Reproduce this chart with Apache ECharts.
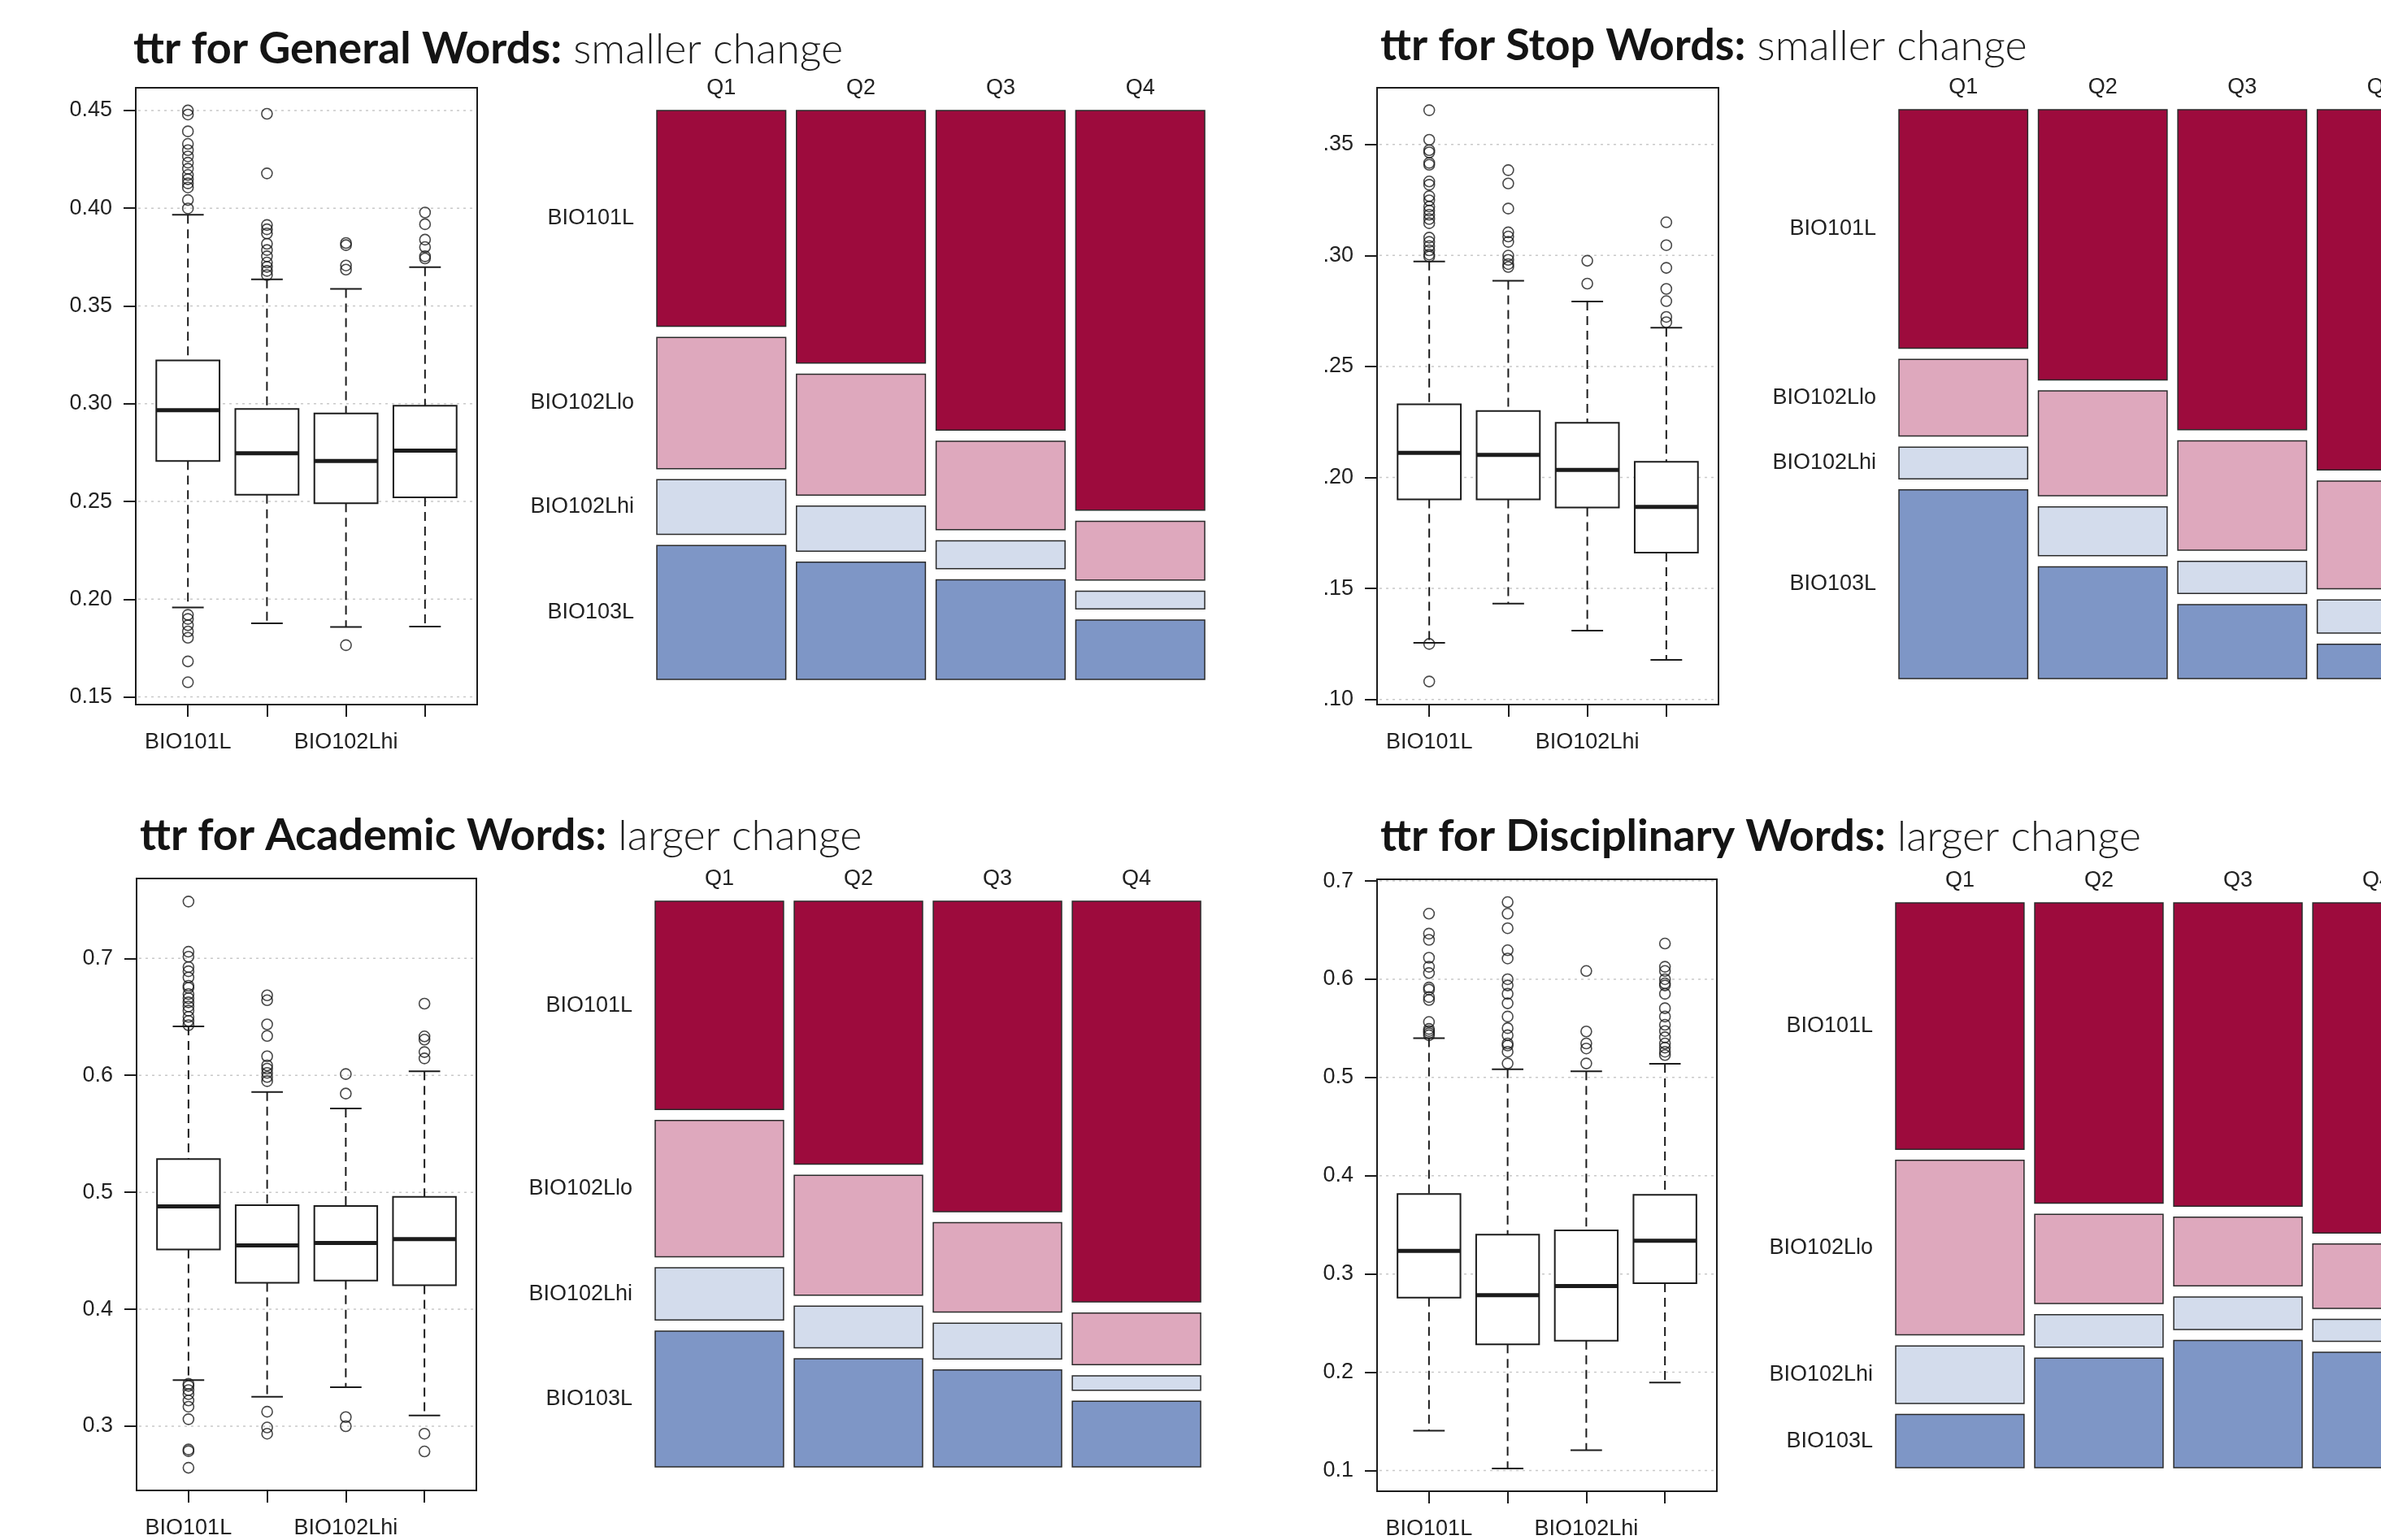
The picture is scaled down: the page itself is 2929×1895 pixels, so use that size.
<!DOCTYPE html>
<html>
<head>
<meta charset="utf-8">
<title>ttr by course and quarter</title>
<script src="https://cdn.jsdelivr.net/npm/echarts@6/dist/echarts.min.js"></script>
<style>
    html, body { margin: 0; padding: 0; background: #fff; }
    #chart { width: 2929px; height: 1895px; }
</style>
</head>
<body>
<div id="chart"></div>
<script>
// categories
var courses = ['BIO101L', 'BIO102Llo', 'BIO102Lhi', 'BIO103L'];
var quarters = ['Q1', 'Q2', 'Q3', 'Q4'];

// tick labels of the boxplots
var generalTicks = [0.15, 0.20, 0.25, 0.30, 0.35, 0.40, 0.45];
var stopTicks = [0.10, 0.15, 0.20, 0.25, 0.30, 0.35];
var academicTicks = [0.3, 0.4, 0.5, 0.6, 0.7];
var disciplinaryTicks = [0.1, 0.2, 0.3, 0.4, 0.5, 0.6, 0.7];

// boxplot stats per course: [lower whisker, Q1, median, Q3, upper whisker]
var generalBox = [[0.1958, 0.2707, 0.2967, 0.3221, 0.3967], [0.1877, 0.2534, 0.2747, 0.2973, 0.3636],
    [0.1858, 0.2491, 0.2707, 0.2950, 0.3587], [0.1860, 0.2521, 0.2760, 0.2990, 0.3698]];
var stopBox = [[0.1255, 0.1901, 0.2111, 0.2329, 0.2973], [0.1432, 0.1901, 0.2102, 0.2299, 0.2886],
    [0.1310, 0.1865, 0.2034, 0.2246, 0.2792], [0.1178, 0.1661, 0.1867, 0.2070, 0.2674]];
var academicBox = [[0.3394, 0.4511, 0.4879, 0.5284, 0.6418], [0.3252, 0.4227, 0.4546, 0.4890, 0.5858],
    [0.3333, 0.4245, 0.4567, 0.4883, 0.5716], [0.3092, 0.4206, 0.4599, 0.4961, 0.6035]];
var disciplinaryBox = [[0.1405, 0.2759, 0.3236, 0.3814, 0.5401], [0.1021, 0.2283, 0.2785, 0.3401, 0.5084],
    [0.1207, 0.2321, 0.2878, 0.3443, 0.5063], [0.1895, 0.2907, 0.3338, 0.3806, 0.5139]];

// outliers per course
var generalOut = [
    [0.4500, 0.4479, 0.4393, 0.4329, 0.4297, 0.4265, 0.4233, 0.4202, 0.4170, 0.4148, 0.4127, 0.4106, 0.4042, 0.3999,
        0.1920, 0.1899, 0.1867, 0.1835, 0.1803, 0.1682, 0.1575],
    [0.4483, 0.4178, 0.3914, 0.3892, 0.3871, 0.3818, 0.3786, 0.3754, 0.3722, 0.3700, 0.3679, 0.3658],
    [0.3822, 0.3811, 0.3707, 0.3686, 0.1765],
    [0.3978, 0.3918, 0.3839, 0.3801, 0.3754, 0.3743]
];
var stopOut = [
    [0.3654, 0.3521, 0.3474, 0.3464, 0.3417, 0.3408, 0.3333, 0.3318, 0.3267, 0.3248, 0.3220, 0.3202, 0.3183, 0.3164,
        0.3145, 0.3080, 0.3061, 0.3042, 0.3023, 0.3004, 0.2995, 0.1250, 0.1081],
    [0.3384, 0.3324, 0.3211, 0.3104, 0.3085, 0.3061, 0.2999, 0.2980, 0.2961, 0.2948],
    [0.2976, 0.2873],
    [0.3149, 0.3046, 0.2944, 0.2849, 0.2794, 0.2723, 0.2699]
];
var academicOut = [
    [0.7486, 0.7057, 0.7014, 0.6926, 0.6890, 0.6837, 0.6766, 0.6748, 0.6695, 0.6660, 0.6624, 0.6589, 0.6553, 0.6500,
        0.6465, 0.6429, 0.3362, 0.3345, 0.3309, 0.3274, 0.3220, 0.3167, 0.3060, 0.2801, 0.2787, 0.2645],
    [0.6684, 0.6642, 0.6436, 0.6337, 0.6163, 0.6085, 0.6057, 0.6021, 0.5986, 0.5950, 0.3124, 0.2989, 0.2936],
    [0.6011, 0.5844, 0.3078, 0.3000],
    [0.6613, 0.6333, 0.6305, 0.6199, 0.6145, 0.2936, 0.2784]
];
var disciplinaryOut = [
    [0.6667, 0.6464, 0.6401, 0.6219, 0.6127, 0.6063, 0.5916, 0.5895, 0.5819, 0.5789, 0.5565, 0.5494, 0.5473, 0.5451, 0.5430],
    [0.6785, 0.6667, 0.6519, 0.6295, 0.6211, 0.6000, 0.5937, 0.5852, 0.5755, 0.5620, 0.5502, 0.5430, 0.5346, 0.5325,
        0.5262, 0.5143],
    [0.6084, 0.5468, 0.5346, 0.5295, 0.5143],
    [0.6363, 0.6127, 0.6084, 0.6000, 0.5958, 0.5937, 0.5852, 0.5705, 0.5620, 0.5536, 0.5473, 0.5409, 0.5346, 0.5304,
        0.5262, 0.5228]
];

// mosaic: share of each course (BIO101L, BIO102Llo, BIO102Lhi, BIO103L) within each quarter
var generalMosaic = [[0.403, 0.245, 0.102, 0.250], [0.472, 0.226, 0.084, 0.219], [0.597, 0.165, 0.052, 0.186], [0.747, 0.110, 0.033, 0.111]];
var stopMosaic = [[0.445, 0.143, 0.059, 0.352], [0.505, 0.196, 0.091, 0.209], [0.597, 0.204, 0.060, 0.138], [0.672, 0.201, 0.062, 0.064]];
var academicMosaic = [[0.391, 0.256, 0.098, 0.255], [0.494, 0.225, 0.078, 0.203], [0.583, 0.168, 0.067, 0.182], [0.752, 0.097, 0.027, 0.123]];
var disciplinaryMosaic = [[0.463, 0.328, 0.108, 0.100], [0.565, 0.168, 0.061, 0.206], [0.570, 0.129, 0.061, 0.239], [0.621, 0.121, 0.041, 0.217]];

var courseColors = ['#9d0b3d', '#dea8bd', '#d3dcec', '#7e96c6'];
var INK = '#1c1c1c';
var LABEL_FONT = '"Liberation Sans", Arial, sans-serif';
var LABEL_SIZE = 27;
var GAP = 0.0196;
var COLW = (1 - 3 * GAP) / 4;
var ROWSPAN = 1 - 3 * GAP;

// layout of the four panels
var panels = [
    {bold: 'ttr for General Words:', light: ' smaller change', titleLeft: 164, titleTop: 31,
        box: {left: 167, top: 108, width: 420, height: 759}, yMin: 0.1461, yMax: 0.4616,
        ticks: generalTicks, fmt: function (v) { return v.toFixed(2); },
        stats: generalBox, out: generalOut, mosaic: generalMosaic,
        mos: {left: 808, top: 136, width: 674, height: 700}},
    {bold: 'ttr for Stop Words:', light: ' smaller change', titleLeft: 1698, titleTop: 27,
        box: {left: 1694, top: 108, width: 420, height: 759}, yMin: 0.0977, yMax: 0.3755,
        ticks: stopTicks, fmt: function (v) { return v.toFixed(2).slice(1); },
        stats: stopBox, out: stopOut, mosaic: stopMosaic,
        mos: {left: 2336, top: 135, width: 673, height: 700}},
    {bold: 'ttr for Academic Words:', light: ' larger change', titleLeft: 172, titleTop: 999,
        box: {left: 168, top: 1081, width: 418, height: 753}, yMin: 0.2451, yMax: 0.7683,
        ticks: academicTicks, fmt: function (v) { return v.toFixed(1); },
        stats: academicBox, out: academicOut, mosaic: academicMosaic,
        mos: {left: 806, top: 1109, width: 671, height: 696}},
    {bold: 'ttr for Disciplinary Words:', light: ' larger change', titleLeft: 1698, titleTop: 1000,
        box: {left: 1694, top: 1082, width: 418, height: 753}, yMin: 0.0789, yMax: 0.7017,
        ticks: disciplinaryTicks, fmt: function (v) { return v.toFixed(1); },
        stats: disciplinaryBox, out: disciplinaryOut, mosaic: disciplinaryMosaic,
        mos: {left: 2332, top: 1111, width: 671, height: 695}}
];

function seg(api, x0, v0, x1, v1, style) {
    var a = api.coord([x0, v0]);
    var b = api.coord([x1, v1]);
    return {type: 'line', shape: {x1: a[0], y1: a[1], x2: b[0], y2: b[1]}, style: style};
}

function renderGridLine(params, api) {
    var cs = params.coordSys;
    var y = api.coord([1, api.value(1)])[1];
    return {type: 'line', shape: {x1: cs.x + 3, y1: y, x2: cs.x + cs.width - 3, y2: y},
        style: {stroke: '#c9c9c9', lineWidth: 1.5, lineDash: [3, 5]}};
}

function renderBox(params, api) {
    var x = api.value(0);
    var lo = api.value(1), q1 = api.value(2), md = api.value(3), q3 = api.value(4), hi = api.value(5);
    var dash = {stroke: INK, lineWidth: 2, lineDash: [11, 7]};
    var solid = {stroke: INK, lineWidth: 2};
    var tl = api.coord([x - 0.4, q3]);
    var br = api.coord([x + 0.4, q1]);
    return {
        type: 'group',
        children: [
            seg(api, x, hi, x, q3, dash),
            seg(api, x, q1, x, lo, dash),
            seg(api, x - 0.2, hi, x + 0.2, hi, solid),
            seg(api, x - 0.2, lo, x + 0.2, lo, solid),
            {type: 'rect', shape: {x: tl[0], y: tl[1], width: br[0] - tl[0], height: br[1] - tl[1]},
                style: {fill: '#fff', stroke: INK, lineWidth: 2}},
            seg(api, x - 0.4, md, x + 0.4, md, {stroke: INK, lineWidth: 5})
        ]
    };
}

function renderMosaic(params, api) {
    var q = api.value(0), r = api.value(1), p0 = api.value(2), p1 = api.value(3);
    var x0 = q * (COLW + GAP);
    var a = api.coord([x0, p0 * ROWSPAN + r * GAP]);
    var b = api.coord([x0 + COLW, p1 * ROWSPAN + r * GAP]);
    var children = [{
        type: 'rect',
        shape: {x: a[0], y: a[1], width: b[0] - a[0], height: b[1] - a[1]},
        style: {fill: courseColors[r], stroke: '#2b2b2b', lineWidth: 1.5}
    }];
    if (q === 0) {
        children.push({type: 'text', x: a[0] - 28, y: (a[1] + b[1]) / 2,
            style: {text: courses[r], fill: '#222', fontSize: LABEL_SIZE, fontFamily: LABEL_FONT, align: 'right', verticalAlign: 'middle'}});
    }
    if (r === 0) {
        children.push({type: 'text', x: (a[0] + b[0]) / 2, y: a[1] - 27,
            style: {text: quarters[q], fill: '#222', fontSize: LABEL_SIZE, fontFamily: LABEL_FONT, align: 'center', verticalAlign: 'middle'}});
    }
    return {type: 'group', children: children};
}

var option = {
    backgroundColor: '#fff',
    animation: false,
    title: [],
    grid: [],
    xAxis: [],
    yAxis: [],
    series: []
};

panels.forEach(function (p, i) {
    var gb = 2 * i, gm = 2 * i + 1;
    option.title.push({
        left: p.titleLeft, top: p.titleTop, padding: 0,
        text: '{b|' + p.bold + '}{l|' + p.light + '}',
        textStyle: {
            rich: {
                b: {fontFamily: 'Lato', fontWeight: 'bold', fontSize: 54, lineHeight: 60, color: '#141414'},
                l: {fontFamily: 'Lato', fontWeight: 300, fontSize: 52, lineHeight: 60, color: '#1e1e1e'}
            }
        }
    });

    option.grid.push({left: p.box.left, top: p.box.top, width: p.box.width, height: p.box.height,
        show: true, borderColor: INK, borderWidth: 2, backgroundColor: 'transparent',
        containLabel: false, outerBoundsMode: 'none'});
    option.grid.push({left: p.mos.left, top: p.mos.top, width: p.mos.width, height: p.mos.height,
        show: false, containLabel: false, outerBoundsMode: 'none'});

    option.xAxis.push({
        gridIndex: gb, type: 'value', min: 0.34, max: 4.66,
        axisLine: {show: false},
        splitLine: {show: false},
        axisTick: {show: true, customValues: [1, 2, 3, 4], length: 15, lineStyle: {color: INK, width: 2}},
        axisLabel: {customValues: [1, 3], margin: 33, fontSize: LABEL_SIZE, fontFamily: LABEL_FONT, color: '#222',
            formatter: function (v) { return courses[Math.round(v) - 1]; }}
    });
    option.xAxis.push({gridIndex: gm, type: 'value', min: 0, max: 1, show: false});

    option.yAxis.push({
        gridIndex: gb, type: 'value', min: p.yMin, max: p.yMax,
        axisLine: {show: false},
        splitLine: {show: false},
        axisTick: {show: true, customValues: p.ticks, length: 15, lineStyle: {color: INK, width: 2}},
        axisLabel: {customValues: p.ticks, margin: 29, fontSize: LABEL_SIZE, fontFamily: LABEL_FONT, color: '#222',
            formatter: p.fmt}
    });
    option.yAxis.push({gridIndex: gm, type: 'value', min: 0, max: 1, inverse: true, show: false});

    option.series.push({
        type: 'custom', xAxisIndex: gb, yAxisIndex: gb, silent: true, z: 1,
        renderItem: renderGridLine,
        data: p.ticks.map(function (v) { return [1, v]; })
    });
    option.series.push({
        type: 'custom', xAxisIndex: gb, yAxisIndex: gb, silent: true, z: 3,
        renderItem: renderBox,
        data: p.stats.map(function (s, k) { return [k + 1].concat(s); })
    });
    var pts = [];
    p.out.forEach(function (list, k) {
        list.forEach(function (v) { pts.push([k + 1, v]); });
    });
    option.series.push({
        type: 'scatter', xAxisIndex: gb, yAxisIndex: gb, silent: true, z: 4,
        symbol: 'circle', symbolSize: 13,
        itemStyle: {color: 'rgba(0,0,0,0)', borderColor: INK, borderWidth: 1.6},
        data: pts
    });

    var cells = [];
    p.mosaic.forEach(function (shares, q) {
        var total = shares.reduce(function (s, v) { return s + v; }, 0);
        var acc = 0;
        shares.forEach(function (v, r) {
            cells.push([q, r, acc / total, (acc + v) / total]);
            acc += v;
        });
    });
    option.series.push({
        type: 'custom', xAxisIndex: gm, yAxisIndex: gm, silent: true, z: 2,
        renderItem: renderMosaic,
        data: cells
    });
});

var chart = echarts.init(document.getElementById('chart'));
chart.setOption(option);
</script>
</body>
</html>
